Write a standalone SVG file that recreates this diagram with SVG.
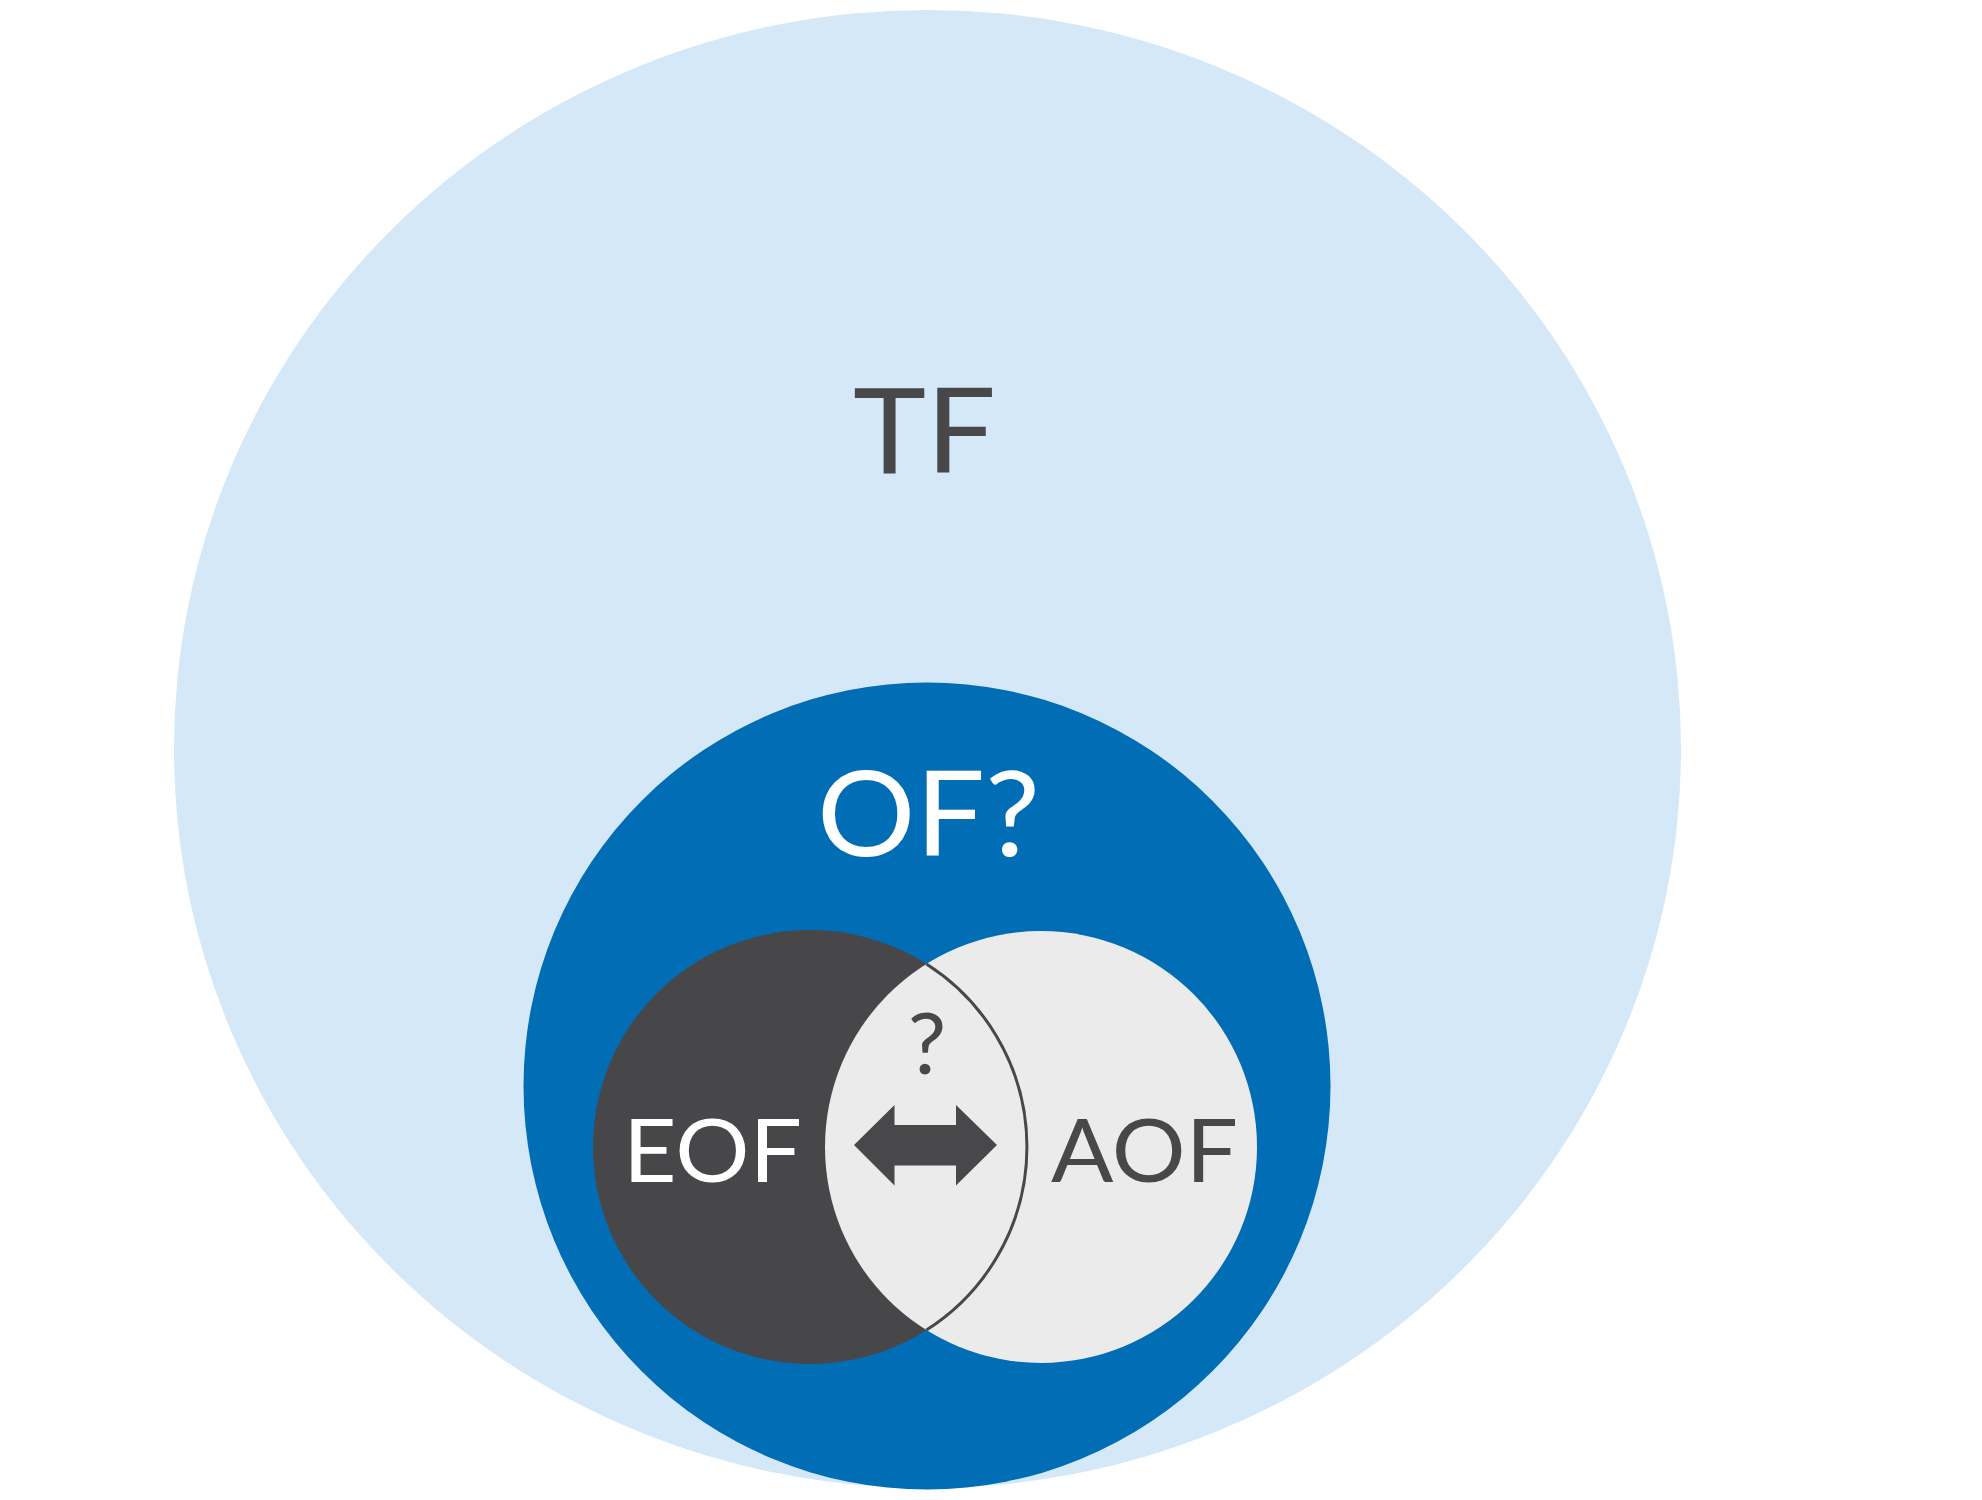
<svg xmlns="http://www.w3.org/2000/svg" width="1982" height="1500" viewBox="0 0 1982 1500">
<style>
.lbl{font-family:Lato,"Open Sans","Liberation Sans",sans-serif;font-weight:400;text-anchor:middle}
.dk{fill:#48484a}
.wh{fill:#ffffff}
</style>
<rect width="1982" height="1500" fill="#ffffff"/>
<g id="TF">
<ellipse cx="927.5" cy="749" rx="753.5" ry="739" fill="#d4e8f8"/>
<text class="lbl dk" x="924.5" y="473" font-size="118.6" textLength="143" lengthAdjust="spacingAndGlyphs">TF</text>
</g>
<g id="OF">
<circle cx="927" cy="1086" r="403.5" fill="#006db5"/>
<text class="lbl wh" x="928.5" y="856" font-size="119" textLength="223" lengthAdjust="spacingAndGlyphs">OF?</text>
</g>
<g id="EOF">
<circle cx="810" cy="1147" r="217" fill="#47474a"/>
<text class="lbl wh" x="712.5" y="1182" font-size="86.5" textLength="179" lengthAdjust="spacingAndGlyphs">EOF</text>
</g>
<g id="AOF">
<circle cx="1041" cy="1147" r="216" fill="#ebebeb"/>
<text class="lbl dk" x="1144.5" y="1182" font-size="86.5" textLength="187" lengthAdjust="spacingAndGlyphs">AOF</text>
</g>
<g id="connectors">
<path d="M926.4 963.9 A217 217 0 0 1 926.4 1330.1" fill="none" stroke="#48484a" stroke-width="3"/>
<polygon points="854,1145 894.5,1105 894.5,1125 956,1125 956,1105 997,1145 956,1185.5 956,1165.5 894.5,1165.5 894.5,1185.5" fill="#48484a"/>
<text class="lbl dk" x="927" y="1074" font-size="86">?</text>
</g>
</svg>
